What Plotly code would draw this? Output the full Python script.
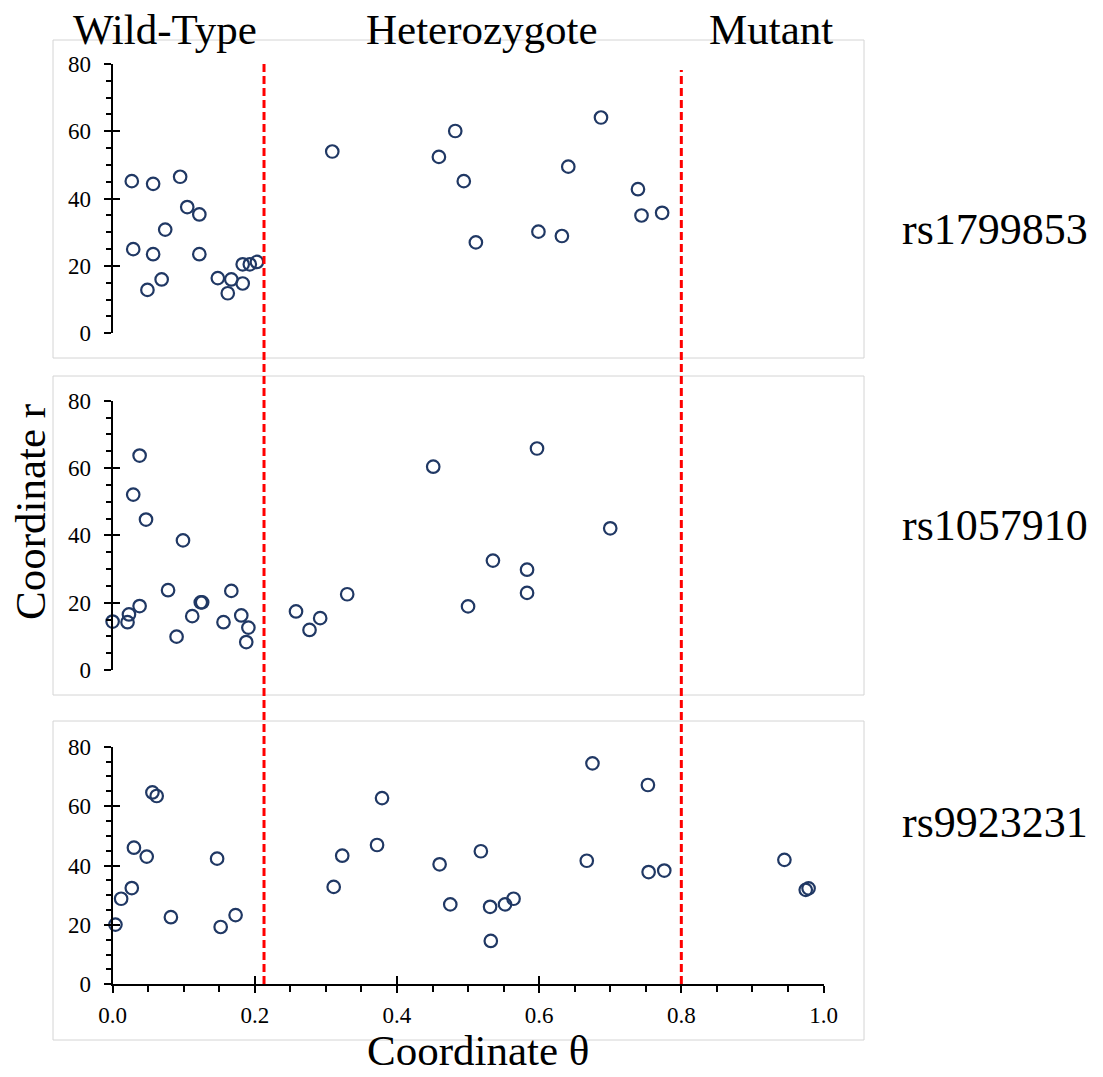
import plotly.graph_objects as go

# ---------------- data ----------------
panels = ["rs1799853", "rs1057910", "rs9923231"]
groups = ["Wild-Type", "Heterozygote", "Mutant"]
thresholds = [0.213, 0.80]
y_ticks = [0, 20, 40, 60, 80]
x_ticks = [0.0, 0.2, 0.4, 0.6, 0.8, 1.0]
x_tick_labels = ["0.0", "0.2", "0.4", "0.6", "0.8", "1.0"]

theta_rs1799853 = [0.027, 0.057, 0.095, 0.029, 0.057, 0.074, 0.105, 0.122, 0.122, 0.049,
                   0.069, 0.148, 0.167, 0.162, 0.183, 0.183, 0.193, 0.203,
                   0.309, 0.459, 0.482, 0.494, 0.511, 0.599, 0.632, 0.687, 0.641,
                   0.739, 0.744, 0.773]
r_rs1799853 = [45.2, 44.4, 46.5, 25.0, 23.5, 30.8, 37.5, 35.3, 23.5, 12.9,
               16.0, 16.4, 16.0, 11.9, 14.8, 20.5, 20.5, 21.2,
               54.0, 52.4, 60.1, 45.2, 27.0, 30.2, 28.9, 64.1, 49.5,
               42.8, 35.0, 35.8]

theta_rs1057910 = [0.000, 0.021, 0.023, 0.038, 0.038, 0.029, 0.047, 0.099, 0.078, 0.090,
                   0.112, 0.124, 0.126, 0.156, 0.167, 0.181, 0.191, 0.188,
                   0.258, 0.277, 0.292, 0.330, 0.451, 0.500, 0.535, 0.583, 0.583,
                   0.597, 0.700, 1.003]
r_rs1057910 = [14.4, 14.2, 16.5, 19.0, 63.7, 52.1, 44.7, 38.5, 23.7, 9.9,
               16.0, 20.1, 20.1, 14.2, 23.5, 16.2, 12.6, 8.3,
               17.4, 11.9, 15.4, 22.5, 60.4, 18.9, 32.5, 29.8, 22.9,
               65.8, 42.1, 48.3]

theta_rs9923231 = [0.004, 0.012, 0.027, 0.030, 0.048, 0.056, 0.062, 0.082, 0.147, 0.152,
                   0.173, 0.311, 0.323, 0.372, 0.379, 0.460, 0.475, 0.518, 0.531,
                   0.532, 0.552, 0.564, 0.675, 0.753, 0.667, 0.754, 0.776,
                   0.945, 0.975, 0.979]
r_rs9923231 = [20.1, 28.8, 32.4, 46.0, 43.0, 64.6, 63.4, 22.6, 42.3, 19.3,
               23.3, 32.8, 43.3, 46.9, 62.7, 40.4, 26.9, 44.8, 26.1,
               14.6, 26.9, 28.8, 74.4, 67.1, 41.6, 37.8, 38.3,
               41.9, 31.8, 32.3]

series = [(theta_rs1799853, r_rs1799853),
          (theta_rs1057910, r_rs1057910),
          (theta_rs9923231, r_rs9923231)]

# ---------------- layout geometry (page pixels) ----------------
W, H = 1103, 1077
FONT = "Liberation Serif, Times New Roman, serif"
MARKER_COLOR = "#203864"


def px_x(p):
    return p / W


def px_y(p):
    return 1 - p / H


x_left_px, x_right_px = 112.6, 823.5
panel_y_px = [(64.0, 333.3), (400.7, 670.0), (746.7, 984.3)]
panel_box_px = [(53, 864, 40, 358), (53, 864, 376, 695), (53, 864, 721, 1040)]

fig = go.Figure()

for i, (th, rr) in enumerate(series):
    xa = "x" if i == 0 else f"x{i+1}"
    ya = "y" if i == 0 else f"y{i+1}"
    fig.add_trace(go.Scatter(
        x=th, y=rr, mode="markers", xaxis=xa, yaxis=ya,
        marker=dict(symbol="circle-open", size=12.5, color=MARKER_COLOR,
                    line=dict(width=2.2, color=MARKER_COLOR)),
        cliponaxis=False, showlegend=False, hoverinfo="x+y"))

# invisible helper traces so the overlay axes (inner half of crossing ticks) are drawn
for i in range(3):
    fig.add_trace(go.Scatter(x=[None], y=[None], mode="markers",
                             xaxis="x" if i == 0 else f"x{i+1}", yaxis=f"y{i+4}",
                             showlegend=False, hoverinfo="skip"))
fig.add_trace(go.Scatter(x=[None], y=[None], mode="markers", xaxis="x4", yaxis="y3",
                         showlegend=False, hoverinfo="skip"))

layout = dict(
    template="none",
    width=W, height=H, margin=dict(l=0, r=0, t=0, b=0, pad=0),
    paper_bgcolor="white", plot_bgcolor="rgba(0,0,0,0)",
    font=dict(family=FONT, color="black", size=23),
    showlegend=False,
)

tickfont = dict(family=FONT, size=23, color="black")

for i in range(3):
    xk = "xaxis" if i == 0 else f"xaxis{i+1}"
    yk = "yaxis" if i == 0 else f"yaxis{i+1}"
    xa = "x" if i == 0 else f"x{i+1}"
    ya = "y" if i == 0 else f"y{i+1}"
    top, bot = panel_y_px[i]
    last = (i == 2)
    layout[xk] = dict(
        domain=[px_x(x_left_px), px_x(x_right_px)], anchor=ya,
        range=[0, 1], showgrid=False, zeroline=False, automargin=False,
        showline=last, linecolor="black", linewidth=2,
        tickvals=x_ticks if last else [], ticktext=x_tick_labels if last else [],
        showticklabels=last,
        ticks="outside" if last else "", ticklen=7, tickwidth=2, tickcolor="black",
        ticklabelstandoff=2,
        minor=dict(dtick=0.05, ticks="outside", ticklen=6, tickwidth=1.5,
                   tickcolor="black", showgrid=False) if last else dict(ticks=""),
        tickfont=tickfont,
    )
    layout[yk] = dict(
        domain=[px_y(bot), px_y(top)], anchor=xa,
        range=[0, 80], showgrid=False, zeroline=False, automargin=False,
        showline=True, linecolor="black", linewidth=2,
        tickvals=y_ticks, ticks="outside", ticklen=7, tickwidth=2, tickcolor="black",
        ticklabelstandoff=8,
        minor=dict(dtick=5, ticks="outside", ticklen=5, tickwidth=1.5,
                   tickcolor="black", showgrid=False),
        tickfont=tickfont,
    )
    # overlay axis: inner half of the crossing major ticks
    layout[f"yaxis{i+4}"] = dict(
        overlaying=ya, anchor=xa, side="left", range=[0, 80],
        showgrid=False, zeroline=False, showline=False, automargin=False,
        tickvals=y_ticks, ticks="inside", ticklen=7, tickwidth=2, tickcolor="black",
        showticklabels=False,
    )

layout["xaxis4"] = dict(
    overlaying="x3", anchor="y3", side="bottom", range=[0, 1],
    showgrid=False, zeroline=False, showline=False, automargin=False,
    tickvals=x_ticks, ticks="inside", ticklen=8, tickwidth=2, tickcolor="black",
    showticklabels=False,
)

shapes = []
# panel frames
for (x0, x1, y0, y1) in panel_box_px:
    shapes.append(dict(type="rect", xref="paper", yref="paper",
                       x0=px_x(x0), x1=px_x(x1), y0=px_y(y1), y1=px_y(y0),
                       line=dict(color="#D4D4D4", width=1), fillcolor="rgba(0,0,0,0)",
                       layer="below"))
# threshold dashed lines
line_tops = [62, 70]
for t, top in zip(thresholds, line_tops):
    shapes.append(dict(type="line", xref="x3", yref="paper",
                       x0=t, x1=t, y0=px_y(984), y1=px_y(top),
                       line=dict(color="#FF0000", width=3, dash="8px,4px")))
layout["shapes"] = shapes

annotations = []
title_x_px = [165, 482, 771]
for g, xp in zip(groups, title_x_px):
    annotations.append(dict(text=g, xref="paper", yref="paper",
                            x=px_x(xp), y=px_y(29), xanchor="center", yanchor="middle",
                            showarrow=False, font=dict(family=FONT, size=43, color="black")))
label_y_px = [229, 525, 822]
for p, yp in zip(panels, label_y_px):
    annotations.append(dict(text=p, xref="paper", yref="paper",
                            x=px_x(900), y=px_y(yp), xanchor="left", yanchor="middle",
                            showarrow=False, font=dict(family=FONT, size=44, color="black")))
annotations.append(dict(text="Coordinate r", xref="paper", yref="paper",
                        x=px_x(30), y=px_y(512), xanchor="center", yanchor="middle",
                        textangle=-90, showarrow=False,
                        font=dict(family=FONT, size=43, color="black")))
annotations.append(dict(text="Coordinate θ", xref="paper", yref="paper",
                        x=px_x(478), y=px_y(1050), xanchor="center", yanchor="middle",
                        showarrow=False, font=dict(family=FONT, size=43, color="black")))
layout["annotations"] = annotations

fig.update_layout(**layout)
# remove the default page margin so the figure fills the 1103x1077 window exactly
fig.write_html("out.html", config={"displayModeBar": False},
               post_script="document.body.style.margin='0';document.documentElement.style.margin='0';")
